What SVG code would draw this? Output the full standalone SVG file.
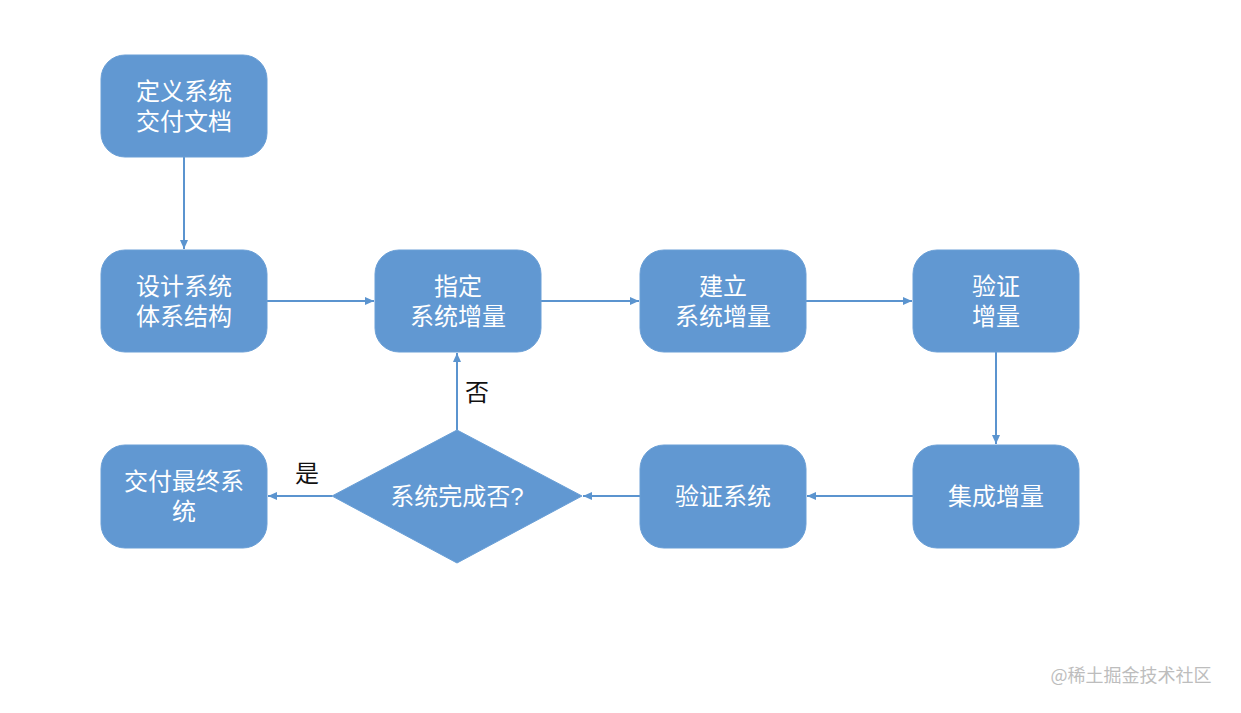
<svg xmlns="http://www.w3.org/2000/svg" width="1241" height="713" viewBox="0 0 1241 713">
<style>
.n{fill:#6198d2;stroke:#6a9fd6;stroke-width:1}
.t{font-family:"Liberation Sans","Noto Sans CJK SC",sans-serif;font-size:24px;fill:#fff;text-anchor:middle}
.l{font-family:"Liberation Sans","Noto Sans CJK SC",sans-serif;font-size:24px;fill:#111;text-anchor:middle}
.c{stroke:#5b94cf;stroke-width:2;fill:none;marker-end:url(#a)}
</style>
<defs>
<marker id="a" markerWidth="10" markerHeight="10" refX="9" refY="5" orient="auto" markerUnits="userSpaceOnUse">
<path d="M0,1 L9,5 L0,9 Z" fill="#5b94cf"/>
</marker>
</defs>
<rect width="1241" height="713" fill="#fff"/>
<g id="connectors">
<path class="c" d="M184,157 V249"/>
<path class="c" d="M267,301 H374"/>
<path class="c" d="M541,301 H639"/>
<path class="c" d="M806,301 H912"/>
<path class="c" d="M996,352 V444"/>
<path class="c" d="M913,496 H807"/>
<path class="c" d="M640,496 H583"/>
<path class="c" d="M457,430 V353"/>
<path class="c" d="M332,496 H268"/>
</g>
<g id="n1"><rect class="n" x="101" y="55" width="166" height="102" rx="24"/><text class="t" x="184" y="100">定义系统</text><text class="t" x="184" y="130">交付文档</text></g>
<g id="n2"><rect class="n" x="101" y="250" width="166" height="102" rx="24"/><text class="t" x="184" y="295">设计系统</text><text class="t" x="184" y="325">体系结构</text></g>
<g id="n3"><rect class="n" x="375" y="250" width="166" height="102" rx="24"/><text class="t" x="458" y="295">指定</text><text class="t" x="458" y="325">系统增量</text></g>
<g id="n4"><rect class="n" x="640" y="250" width="166" height="102" rx="24"/><text class="t" x="723" y="295">建立</text><text class="t" x="723" y="325">系统增量</text></g>
<g id="n5"><rect class="n" x="913" y="250" width="166" height="102" rx="24"/><text class="t" x="996" y="295">验证</text><text class="t" x="996" y="325">增量</text></g>
<g id="n6"><rect class="n" x="913" y="445" width="166" height="103" rx="24"/><text class="t" x="996" y="505">集成增量</text></g>
<g id="n7"><rect class="n" x="640" y="445" width="166" height="103" rx="24"/><text class="t" x="723" y="505">验证系统</text></g>
<g id="n8"><path class="n" d="M457,430 L582,496 L457,563 L332,496 Z"/><text class="t" x="457" y="505">系统完成否?</text></g>
<g id="n9"><rect class="n" x="101" y="445" width="166" height="103" rx="24"/><text class="t" x="184" y="490">交付最终系</text><text class="t" x="184" y="520">统</text></g>
<text class="l" x="477" y="401">否</text>
<text class="l" x="307" y="482">是</text>
<text x="1131" y="682" font-family="'Noto Sans CJK SC',sans-serif" font-size="18" fill="#bdbdbd" text-anchor="middle">@稀土掘金技术社区</text>
</svg>
